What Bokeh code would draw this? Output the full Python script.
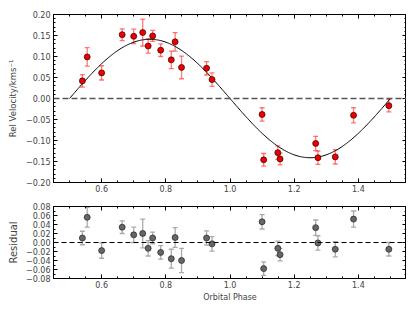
import numpy as np
from bokeh.plotting import figure
from bokeh.models import (ColumnDataSource, Whisker, Span, LinearAxis, FixedTicker,
                          CustomJSTickFormatter, Range1d, TeeHead)
from bokeh.layouts import column
from bokeh.embed import file_html
from bokeh.resources import INLINE

# ---- data ----
phase = [0.540, 0.555, 0.600, 0.664, 0.700, 0.728, 0.745, 0.759, 0.784, 0.817, 0.829, 0.849,
         0.927, 0.944, 1.100, 1.105, 1.149, 1.156, 1.267, 1.274, 1.328, 1.385, 1.495]
rv = [0.042, 0.099, 0.061, 0.152, 0.148, 0.157, 0.125, 0.149, 0.115, 0.092, 0.135, 0.074,
      0.072, 0.045, -0.038, -0.146, -0.129, -0.144, -0.107, -0.141, -0.139, -0.040, -0.017]
rv_err = [0.015, 0.022, 0.017, 0.014, 0.017, 0.032, 0.017, 0.013, 0.015, 0.021, 0.022, 0.027,
          0.016, 0.016, 0.016, 0.015, 0.016, 0.014, 0.017, 0.016, 0.017, 0.018, 0.015]
resid = [0.010, 0.056, -0.018, 0.034, 0.017, 0.020, -0.013, 0.010, -0.022, -0.036, 0.011, -0.040,
         0.010, -0.003, 0.046, -0.058, -0.013, -0.027, 0.033, -0.001, -0.015, 0.052, -0.015]
model_K = 0.141          # semi-amplitude of the fitted orbit
model_phase0 = 0.5       # zero-crossing phase
model_start, model_end = 0.5, 1.5

x_major = [0.6, 0.8, 1.0, 1.2, 1.4]
y_top_ticks = [-0.20, -0.15, -0.10, -0.05, 0.00, 0.05, 0.10, 0.15, 0.20]
y_bot_ticks = [-0.08, -0.06, -0.04, -0.02, 0.00, 0.02, 0.04, 0.06, 0.08]

FONT = "DejaVu Sans"
fmt2 = CustomJSTickFormatter(code="""
var s = Math.abs(tick).toFixed(2);
return (tick < -1e-9 ? '\\u2212' : '') + s;
""")
fmt1 = CustomJSTickFormatter(code="return tick.toFixed(1);")
blank = CustomJSTickFormatter(code="return '';")


def tick_style(ax):
    ax.major_tick_in = 4
    ax.major_tick_out = 0
    ax.minor_tick_in = 2
    ax.minor_tick_out = 0
    ax.axis_line_color = "black"
    ax.major_tick_line_color = "black"
    ax.minor_tick_line_color = "black"


def style_axes(p, yticks, yminor, ylabel_size):
    xt = FixedTicker(ticks=x_major, minor_ticks=list(np.round(np.arange(0.45, 1.5501, 0.05), 3)))
    yt = FixedTicker(ticks=yticks, minor_ticks=yminor)
    xb = p.xaxis[0]
    yl = p.yaxis[0]
    xb.ticker = xt
    xb.formatter = fmt1
    yl.ticker = yt
    yl.formatter = fmt2
    for ax in (xb, yl):
        tick_style(ax)
        ax.major_label_text_font = FONT
        ax.major_label_text_font_size = "8px"
        ax.major_label_standoff = 3
        ax.axis_label_text_font = FONT
        ax.axis_label_text_font_style = "normal"
    xb.major_label_standoff = 2
    xb.axis_label_text_font_size = "8px"
    yl.axis_label_text_font_size = ylabel_size
    # mirror axes (ticks only)
    top = LinearAxis(ticker=xt, formatter=blank, major_label_standoff=0,
                     major_label_text_font_size="1px")
    right = LinearAxis(ticker=yt, formatter=blank, major_label_standoff=0,
                       major_label_text_font_size="1px")
    tick_style(top)
    tick_style(right)
    p.add_layout(top, "above")
    p.add_layout(right, "right")
    p.xgrid.visible = False
    p.ygrid.visible = False
    p.outline_line_color = "black"
    p.background_fill_color = "white"
    p.border_fill_color = "white"


src = ColumnDataSource(dict(x=phase, y=rv, lo=[a - b for a, b in zip(rv, rv_err)],
                            hi=[a + b for a, b in zip(rv, rv_err)],
                            r=resid, rlo=[a - b for a, b in zip(resid, rv_err)],
                            rhi=[a + b for a, b in zip(resid, rv_err)]))

# ---- top panel ----
p1 = figure(frame_width=353, frame_height=168, x_range=Range1d(0.45, 1.55), y_range=Range1d(-0.2, 0.2),
            output_backend="svg", toolbar_location=None,
            min_border_left=53, min_border_right=0, min_border_top=14, min_border_bottom=19)
p1.yaxis.axis_label = "Rel Velocity/kms\u207b\u00b9"
p1.yaxis.axis_label_standoff = 5
style_axes(p1, y_top_ticks, list(np.round(np.arange(-0.2, 0.2001, 0.01), 3)), "8.5px")

p1.add_layout(Span(location=0, dimension="width", line_color="#555555",
                   line_dash="6 3", line_width=1.5))
xm = np.linspace(model_start, model_end, 300)
p1.line(xm, model_K * np.sin(2 * np.pi * (xm - model_phase0)), line_color="black", line_width=1)
p1.add_layout(Whisker(source=src, base="x", lower="lo", upper="hi",
                      line_color="#ff3333", line_alpha=0.65, line_width=1.3,
                      upper_head=TeeHead(size=5, line_color="#ff3333", line_alpha=0.65, line_width=1.3),
                      lower_head=TeeHead(size=5, line_color="#ff3333", line_alpha=0.65, line_width=1.3)))
p1.scatter("x", "y", source=src, size=6, fill_color="#ee0000", line_color="#330000", line_width=0.7)

# ---- bottom panel ----
p2 = figure(frame_width=353, frame_height=72, x_range=p1.x_range, y_range=Range1d(-0.08, 0.08),
            output_backend="svg", toolbar_location=None,
            min_border_left=53, min_border_right=0, min_border_top=5, min_border_bottom=0)
p2.yaxis.axis_label = "Residual"
p2.xaxis.axis_label = "Orbital Phase"
p2.yaxis.axis_label_standoff = 4
p2.xaxis.axis_label_standoff = 2
style_axes(p2, y_bot_ticks, list(np.round(np.arange(-0.08, 0.0801, 0.01), 3)), "10px")
p2.add_layout(Span(location=0, dimension="width", line_color="black",
                   line_dash="5 3", line_width=1))
p2.add_layout(Whisker(source=src, base="x", lower="rlo", upper="rhi",
                      line_color="#aaaaaa", line_width=1.3,
                      upper_head=TeeHead(size=5, line_color="#aaaaaa", line_width=1.3),
                      lower_head=TeeHead(size=5, line_color="#aaaaaa", line_width=1.3)))
p2.scatter("x", "r", source=src, size=6, fill_color="#666666", line_color="#222222", line_width=0.7)

layout = column(p1, p2, spacing=0)
open("out.html", "w").write(file_html(layout, INLINE))
